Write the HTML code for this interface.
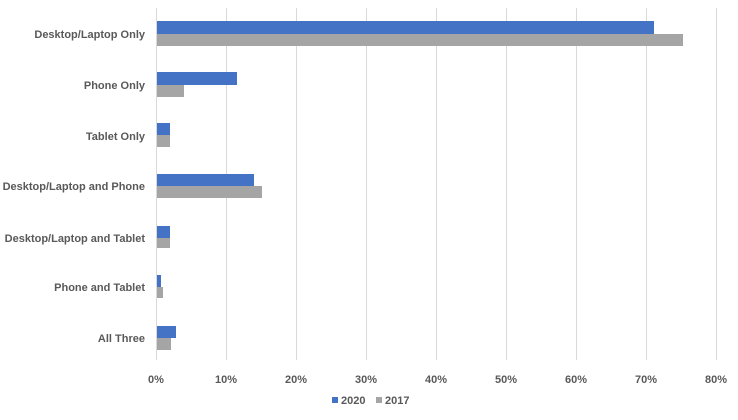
<!DOCTYPE html>
<html><head><meta charset="utf-8"><style>
body{margin:0;background:#fff;}
svg text{font-family:"Liberation Sans",sans-serif;font-weight:bold;font-size:11px;fill:#595959;}
</style></head><body>
<svg width="738" height="415" xmlns="http://www.w3.org/2000/svg">
<g stroke="#d9d9d9" stroke-width="1">
<line x1="226.5" y1="8" x2="226.5" y2="360"/><line x1="296.5" y1="8" x2="296.5" y2="360"/>
<line x1="366.5" y1="8" x2="366.5" y2="360"/><line x1="436.5" y1="8" x2="436.5" y2="360"/>
<line x1="506.5" y1="8" x2="506.5" y2="360"/><line x1="576.5" y1="8" x2="576.5" y2="360"/>
<line x1="646.5" y1="8" x2="646.5" y2="360"/><line x1="716.5" y1="8" x2="716.5" y2="360"/>
</g>
<g fill="#4472c4">
<rect x="156" y="21" width="498" height="13"/>
<rect x="156" y="72" width="81" height="13"/>
<rect x="156" y="123" width="14" height="12"/>
<rect x="156" y="174" width="98" height="12"/>
<rect x="156" y="226" width="14" height="12"/>
<rect x="156" y="275" width="5" height="12"/>
<rect x="156" y="326" width="20" height="12"/>
</g>
<g fill="#a5a5a5">
<rect x="156" y="34" width="527" height="12"/>
<rect x="156" y="85" width="28" height="12"/>
<rect x="156" y="135" width="14" height="12"/>
<rect x="156" y="186" width="106" height="12"/>
<rect x="156" y="238" width="14" height="10"/>
<rect x="156" y="287" width="7" height="11"/>
<rect x="156" y="338" width="15" height="12"/>
</g>
<line x1="156.5" y1="8" x2="156.5" y2="360" stroke="#d9d9d9"/>
<g text-anchor="end">
<text x="145" y="38">Desktop/Laptop Only</text>
<text x="145" y="89">Phone Only</text>
<text x="145" y="140">Tablet Only</text>
<text x="145" y="190">Desktop/Laptop and Phone</text>
<text x="145" y="242">Desktop/Laptop and Tablet</text>
<text x="145" y="291">Phone and Tablet</text>
<text x="145" y="342">All Three</text>
</g>
<g text-anchor="middle">
<text x="156" y="383">0%</text><text x="226" y="383">10%</text><text x="296" y="383">20%</text>
<text x="366" y="383">30%</text><text x="436" y="383">40%</text><text x="506" y="383">50%</text>
<text x="576" y="383">60%</text><text x="646" y="383">70%</text><text x="716" y="383">80%</text>
</g>
<rect x="332" y="397" width="6" height="6" fill="#4472c4"/>
<text x="341" y="404">2020</text>
<rect x="376" y="397" width="6" height="6" fill="#a5a5a5"/>
<text x="385" y="404">2017</text>
</svg>
</body></html>
